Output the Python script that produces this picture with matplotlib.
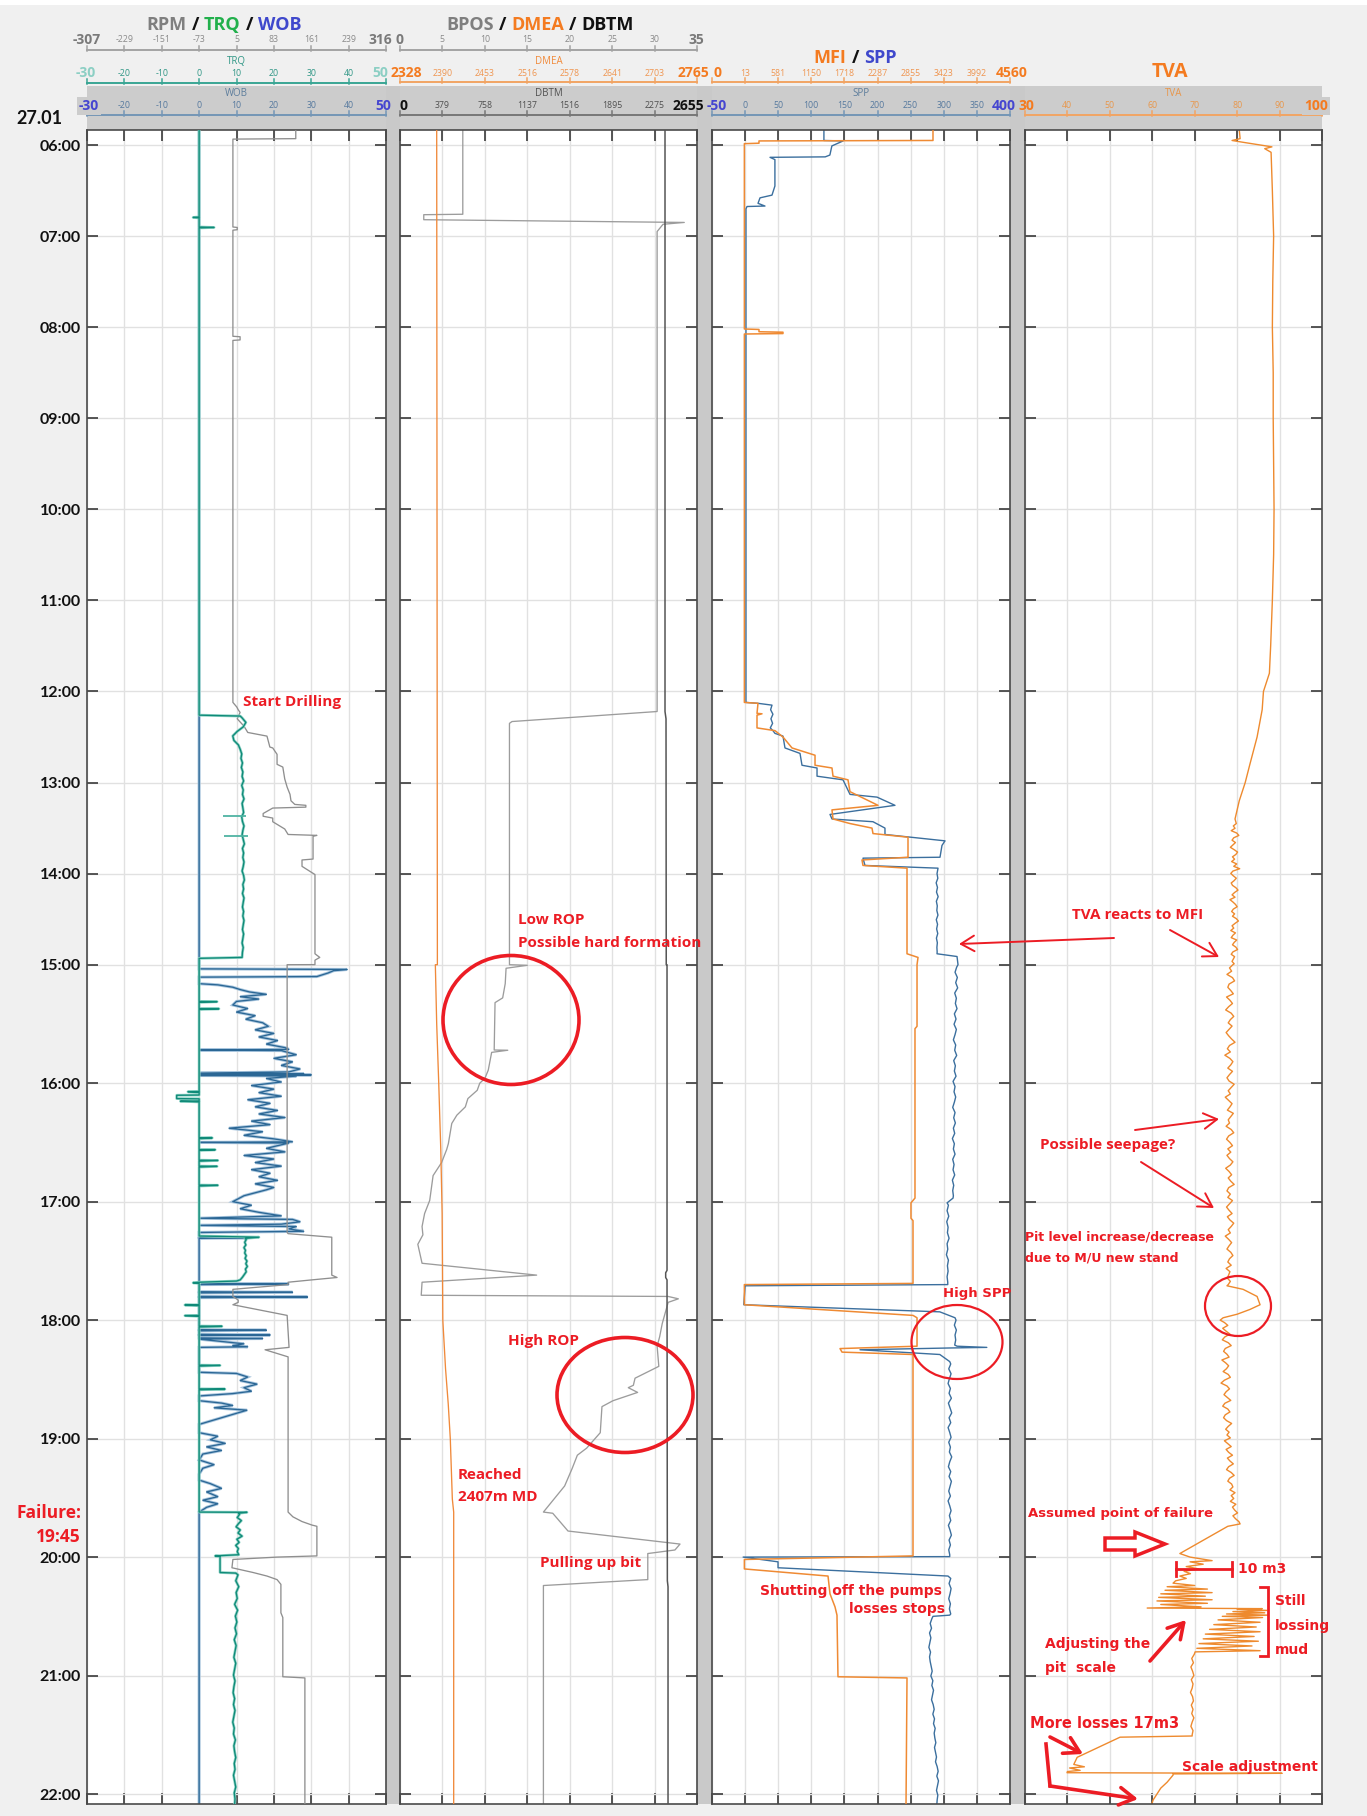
import numpy as np
import matplotlib
matplotlib.use("Agg")
import matplotlib.pyplot as plt
from matplotlib.patches import Ellipse, Polygon, Rectangle, FancyArrowPatch
from matplotlib.transforms import Affine2D
from matplotlib.lines import Line2D

# ---------------------------------------------------------------- data
HOURS = list(range(6, 23))
DATE_LABEL = "27.01"

# header scale labels (first and last are the bold range ends)
RPM_LABELS = ["-307", "-229", "-151", "-73", "5", "83", "161", "239", "316"]
TRQ_LABELS = ["-30", "-20", "-10", "0", "10", "20", "30", "40", "50"]
WOB_LABELS = ["-30", "-20", "-10", "0", "10", "20", "30", "40", "50"]
BPOS_LABELS = ["0", "5", "10", "15", "20", "25", "30", "35"]
DMEA_LABELS = ["2328", "2390", "2453", "2516", "2578", "2641", "2703", "2765"]
DBTM_LABELS = ["0", "379", "758", "1137", "1516", "1895", "2275", "2655"]
MFI_LABELS = ["0", "13", "581", "1150", "1718", "2287", "2855", "3423", "3992", "4560"]
SPP_LABELS = ["-50", "0", "50", "100", "150", "200", "250", "300", "350", "400"]
TVA_LABELS = ["30", "40", "50", "60", "70", "80", "90", "100"]

# axis ranges
WOB_RANGE = (-30, 50)
TRQ_RANGE = (-30, 50)
RPM_RANGE = (-307, 316)
BPOS_RANGE = (0, 35)
DMEA_RANGE = (2328, 2765)
DBTM_RANGE = (0, 2655)
SPP_RANGE = (-50, 400)
MFI_RANGE = (-555.5, 4560)
TVA_RANGE = (30, 100)

# --- RPM (rev/min)
rpm_t = [5.835, 5.93, 5.935, 6.90, 6.905, 6.93, 6.935, 8.10, 8.105, 8.14, 8.145,
         12.12, 12.17, 12.2, 12.23, 12.3, 12.38, 12.45, 12.49, 12.61, 12.62,
         12.69, 12.80, 12.83, 12.96, 13.05, 13.13, 13.20, 13.24, 13.25, 13.27,
         13.28, 13.34, 13.37, 13.39, 13.43, 13.51, 13.57, 13.58, 13.59, 13.84,
         13.85, 13.92, 14.01, 14.88, 14.92, 14.95, 14.999,
         15.0, 17.26, 17.27, 17.30, 17.62, 17.64, 17.66, 17.68, 17.70, 17.74,
         17.80, 17.83, 17.85, 17.87, 17.96, 18.23, 18.25, 18.31, 19.62, 19.66,
         19.70, 19.73, 19.74, 19.99, 20.00, 20.02, 20.09, 20.13, 20.16, 20.19,
         20.23, 20.47, 20.51, 21.01, 21.02, 22.09]
rpm_v = [128, 128, -3, -3, 6, 6, -3, -3, 12, 12, -3,
         -3, 5, 8, 12, 6, 20, 28, 68, 74, 80,
         89, 89, 101, 105, 110, 116, 118, 126, 149, 149,
         80, 60, 60, 80, 80, 105, 112, 172, 164, 164,
         141, 141, 168, 168, 178, 168, 168,
         110, 110, 112, 203, 203, 214, 162, 112, 112, -3,
         -3, 8, 8, -3, 110, 114, 64, 112, 112, 122,
         141, 162, 172, 172, 89, -3, -5, 39, 68, 89,
         97, 97, 101, 101, 147, 147]

# --- TRQ (kNm)
trq_t = np.r_[[5.835, 6.79, 6.795, 6.80, 6.90, 6.905, 6.91, 12.26, 12.27],
              np.linspace(12.29, 14.91, 54),
              [14.92, 14.93, 15.31, 15.312, 15.318, 15.37, 15.372, 15.378, 16.07, 16.072, 16.078,
               16.10, 16.102, 16.13, 16.132, 16.15, 16.152, 16.158, 16.46, 16.462, 16.468,
               16.56, 16.562, 16.568, 16.65, 16.652, 16.658, 16.70, 16.702, 16.708,
               16.86, 16.862, 16.868, 17.29, 17.30, 17.31],
              np.linspace(17.32, 17.66, 16),
              [17.67, 17.68, 17.685, 17.69, 17.87, 17.872, 17.878, 17.96, 17.962, 17.968,
               18.05, 18.052, 18.058, 18.38, 18.382, 18.388, 18.58, 18.582, 18.588,
               19.62, 19.622, 19.63],
              np.linspace(19.64, 19.98, 14),
              [19.99, 19.995, 20.13, 20.135],
              np.linspace(20.15, 22.09, 40)]
trq_v = np.r_[[0, 0, -1.6, 0, 0, 4, 0, 0, 11],
              [11.5, 12.5, 11.8, 10.2, 9.0, 9.3, 10.5, 11.0, 11.4, 11.2,
               11.6, 11.3, 11.7, 11.5, 11.9, 11.4, 11.8, 11.6, 12.0, 11.5,
               11.7, 11.9, 11.4, 11.6, 12.0, 11.7, 11.5, 11.8, 12.1, 11.6,
               11.9, 11.7, 12.0, 11.8, 11.5, 11.9, 12.1, 11.7, 11.9, 11.6,
               12.0, 11.8, 11.6, 11.9, 11.7, 12.0, 11.8, 11.6, 11.9, 11.7,
               11.5, 11.8, 11.6, 11.5],
              [11.5, 0, 0, 4.8, 0, 0, 5.3, 0, 0, -3, 0,
               0, -6, -6, 0, 0, -5, 0, 0, 3.5, 0,
               0, 4.3, 0, 0, 5.0, 0, 0, 4.8, 0,
               0, 5.0, 0, 0, 16, 12.3],
              [12.6, 12.2, 12.5, 12.0, 12.4, 12.2, 12.6, 12.3, 12.8, 12.5,
               12.9, 12.4, 12.6, 12.1, 11.6, 11.0],
              [10.0, 0, -1.6, 0, 0, -3.8, 0, 0, -3.8, 0,
               0, 6.1, 0, 0, 5.6, 0, 0, 6.9, 0,
               0, 12.8, 10.5],
              [10.8, 10.2, 11.3, 10.5, 9.9, 11.0, 10.4, 11.5, 10.1, 10.7,
               9.8, 10.5, 10.2, 10.6],
              [4.3, 5.6, 5.6, 9.8],
              [10.4, 9.8, 10.6, 9.9, 10.2, 9.5, 10.3, 9.7, 10.1, 9.6,
               10.0, 9.4, 9.9, 9.6, 9.3, 9.8, 9.5, 9.2, 9.6, 9.3,
               9.1, 9.5, 9.2, 9.6, 9.3, 9.0, 9.4, 9.2, 9.7, 9.3,
               9.5, 9.8, 9.4, 9.6, 9.2, 9.5, 9.8, 9.4, 9.6, 9.5]]
# short torque excursions while drilling the upper section
trq_spike_t = [13.37, 13.59]
trq_spike_lo = [6.3, 6.6]
trq_spike_hi = [12.6, 13.0]

# --- WOB (t)
wob_t = [5.835, 15.0, 15.035, 15.04, 15.05, 15.07, 15.085, 15.10, 15.105, 15.16,
         15.17, 15.19, 15.21, 15.23, 15.25, 15.27, 15.29, 15.31, 15.34, 15.37,
         15.40, 15.43, 15.46, 15.49, 15.52, 15.55, 15.58, 15.61, 15.64, 15.67,
         15.70, 15.715, 15.72, 15.725, 15.76, 15.79, 15.82, 15.85, 15.88, 15.905,
         15.915, 15.92, 15.925, 15.93, 15.935, 15.94, 15.96, 15.99, 16.02, 16.05,
         16.08, 16.11, 16.14, 16.17, 16.20, 16.23, 16.26, 16.29, 16.32, 16.35,
         16.38, 16.41, 16.44, 16.47, 16.495, 16.50, 16.505, 16.55, 16.58, 16.61,
         16.64, 16.67, 16.70, 16.73, 16.76, 16.79, 16.82, 16.85, 16.88, 16.90,
         16.95, 17.00, 17.03, 17.06, 17.09, 17.12, 17.14, 17.15, 17.17, 17.19,
         17.20, 17.21, 17.23, 17.25, 17.26, 17.30, 17.305, 17.31, 17.69, 17.695,
         17.70, 17.76, 17.765, 17.77, 17.80, 17.805, 17.81, 18.08, 18.085, 18.09,
         18.12, 18.125, 18.13, 18.15, 18.155, 18.16, 18.18, 18.20, 18.215, 18.225,
         18.23, 18.44, 18.45, 18.48, 18.51, 18.54, 18.57, 18.60, 18.62, 18.64,
         18.68, 18.70, 18.72, 18.74, 18.76, 18.88, 18.95, 18.98, 19.01, 19.04,
         19.07, 19.10, 19.13, 19.18, 19.22, 19.25, 19.30, 19.35, 19.38, 19.42,
         19.45, 19.49, 19.52, 19.55, 19.58, 19.62, 22.09]
wob_v = [0, 0, 0, 39.6, 36.0, 34.5, 33.0, 31.5, 0, 0,
         5, 9, 11, 13.5, 18, 11, 16, 10, 9, 13,
         10, 15, 12.5, 17, 18.5, 15, 20, 16, 21, 18,
         23, 24, 0, 22, 26, 20, 25, 22, 27, 24,
         0, 28, 0, 30, 0, 26, 18, 22, 14, 20,
         16, 22, 13, 19, 15, 21, 16, 23, 14, 19,
         8, 17, 12, 20, 25, 0, 24, 18, 23, 12,
         20, 15, 22, 14, 19, 16, 21, 15, 20, 18,
         12, 9, 14, 11, 16, 22, 0, 25, 27, 22,
         0, 26, 24, 28, 0, 0, 13, 0, 0, 24,
         0, 0, 25, 0, 0, 29, 0, 0, 18, 0,
         0, 19, 0, 0, 17, 0, 6, 12, 9, 13,
         0, 0, 10, 13, 11, 15.5, 12, 14, 9, 0,
         0, 6, 9, 4, 12.8, 0, 0, 5, 3, 7,
         2, 6, 1, 0, 4, 1, 0, 0, 3, 6,
         2, 5, 1, 5, 2, 0, 0]

# --- BPOS (m)
bpos_t = [5.835, 6.76, 6.765, 6.82, 6.85, 6.87, 6.95, 12.22, 12.33, 12.35, 15.0,
          15.005, 15.03, 15.16, 15.28, 15.32, 15.72, 15.722, 15.74, 15.89, 15.96,
          16.0, 16.06, 16.13, 16.20, 16.27, 16.34, 16.51, 16.56,
          16.67, 16.78, 16.99, 17.10, 17.21, 17.28, 17.36, 17.52, 17.62, 17.68,
          17.79, 17.80, 17.82, 17.85,
          18.03, 18.14, 18.22, 18.39, 18.49, 18.55, 18.57, 18.61, 18.68, 18.73,
          18.95, 19.08, 19.14, 19.25, 19.40,
          19.62, 19.63, 19.78, 19.89, 19.94, 19.97, 20.19, 20.24, 22.09]
bpos_v = [7.4, 7.4, 2.8, 2.8, 33.5, 31.0, 30.3, 30.3, 13.2, 12.9, 12.9,
          15.0, 12.5, 12.4, 12.1, 11.2, 11.1, 12.7, 10.8, 10.4, 10.0,
          9.4, 9.1, 8.0, 7.7, 6.7, 6.1, 5.7, 5.5,
          4.9, 3.9, 3.5, 2.9, 2.6, 2.7, 2.1, 2.6, 16.1, 2.6,
          2.5, 31.6, 32.8, 31.6,
          30.9, 30.6, 30.3, 30.5, 27.7, 27.5, 26.9, 28.0, 25.1, 23.8,
          23.6, 22.0, 20.9, 20.3, 19.4,
          16.9, 18.0, 19.8, 33.0, 32.4, 29.2, 29.2, 16.9, 16.9]

# --- DMEA (m MD)
dmea_t = [5.835, 15.0, 15.0, 15.5, 16.0, 16.56, 17.1, 18.0, 18.41, 18.71, 19.0, 19.51, 19.62, 22.09]
dmea_v = [2382, 2383, 2380, 2382, 2385, 2388, 2390, 2391, 2395, 2399, 2402, 2405, 2407, 2407]

# --- DBTM (m)
dbtm_t = [5.835, 12.22, 12.30, 15.0, 15.0, 17.58, 17.60, 17.64, 17.66, 20.20, 20.25, 22.09]
dbtm_v = [2369, 2369, 2378, 2380, 2387, 2387, 2375, 2375, 2387, 2390, 2396, 2396]

# --- SPP (bar)
spp_t = np.r_[[5.835, 5.95, 5.955, 6.01, 6.11, 6.13, 6.135, 6.16, 6.45, 6.55,
               6.58, 6.64, 6.67, 6.675, 6.70, 12.12, 12.13, 12.15, 12.20, 12.25,
               12.30, 12.35, 12.40, 12.43, 12.46, 12.49, 12.62, 12.68, 12.81, 12.84,
               12.93, 12.97, 13.13, 13.16, 13.25, 13.35, 13.40, 13.43, 13.50, 13.57,
               13.64, 13.69, 13.82, 13.83, 13.91, 13.94],
              np.linspace(14.0, 14.86, 18),
              [14.88, 14.91, 15.0],
              np.linspace(15.02, 16.95, 45),
              [16.97, 17.01],
              np.linspace(17.03, 17.68, 15),
              [17.69, 17.70, 17.71, 17.87, 17.93, 17.98],
              np.linspace(18.0, 18.21, 6),
              [18.22, 18.23, 18.235, 18.25, 18.29, 18.35],
              np.linspace(18.37, 19.98, 40),
              [19.996, 20.0, 20.04, 20.09, 20.16],
              np.linspace(20.18, 20.48, 8),
              [20.49, 20.50],
              np.linspace(20.52, 22.09, 40)]
spp_v = np.r_[[119, 119, 148, 131, 128, 121, 37.6, 45, 45, 40.6,
               22.5, 19.5, 30, 2.9, 1.3, 1.3, 19.5, 40.6, 38.5, 42.0,
               39.0, 41.5, 38.0, 42.0, 45.1, 57.2, 60.2, 82.9, 85.9, 108.6,
               108.6, 147.8, 158.4, 199.2, 226.3, 128.2, 131.2, 193.1, 211.2, 211.2,
               301.9, 297.3, 294.3, 178.0, 181.0, 291.3],
              [289.8, 291.0, 288.5, 290.5, 289.0, 291.5, 288.8, 290.2, 289.5, 291.2,
               288.7, 290.6, 289.2, 290.9, 288.9, 290.3, 289.6, 290.0],
              [289.8, 320, 321.5],
              [319.5, 317.0, 320.5, 318.0, 321.0, 316.5, 319.0, 317.5, 320.0, 316.0,
               318.5, 315.5, 319.0, 317.0, 314.5, 318.0, 316.5, 319.5, 315.0, 317.5,
               316.0, 318.5, 314.0, 317.0, 315.5, 318.0, 316.0, 313.5, 317.0, 315.0,
               317.5, 314.5, 316.5, 313.0, 316.0, 314.5, 317.0, 313.5, 315.5, 314.0,
               316.5, 313.0, 315.0, 313.5, 314.5],
              [314, 305],
              [307.0, 305.0, 307.5, 304.5, 306.5, 305.5, 308.0, 305.0, 306.0, 304.0,
               307.0, 305.5, 306.5, 305.0, 306.0],
              [306, 306, 0, -2, 294, 317],
              [318.5, 316.0, 319.0, 317.0, 318.0, 316.5],
              [320, 365, 309, 173.5, 294, 309],
              [310.5, 307.5, 311.0, 308.5, 306.5, 310.0, 308.0, 311.5, 307.0, 309.5,
               312.0, 308.0, 310.5, 306.5, 309.0, 311.0, 307.5, 310.0, 308.5, 312.0,
               309.0, 307.0, 310.5, 308.0, 311.5, 309.5, 307.5, 310.0, 306.5, 309.0,
               311.0, 308.5, 310.5, 307.0, 309.5, 311.5, 308.0, 310.0, 307.5, 309.0],
              [309, -3, 49.7, 49.7, 306.4],
              [310.5, 308.0, 311.0, 309.5, 307.5, 310.0, 308.5, 310.5],
              [309, 283.7],
              [282.0, 279.5, 281.5, 278.5, 280.5, 279.0, 277.5, 280.0, 278.5, 279.5,
               281.0, 282.5, 280.5, 283.5, 282.0, 284.5, 283.0, 281.5, 284.0, 285.5,
               283.5, 286.0, 284.5, 287.0, 285.5, 286.5, 288.0, 286.0, 287.5, 289.0,
               287.5, 290.0, 291.5, 289.5, 292.0, 290.5, 289.0, 291.0, 290.0, 289.5]]

# --- MFI (l/min)
mfi_t = [5.835, 5.95, 5.955, 5.98, 5.985, 8.02, 8.025, 8.05, 8.055, 8.07,
         8.075, 12.12, 12.13, 12.24, 12.245, 12.26, 12.40, 12.43, 12.50, 12.62,
         12.70, 12.81, 12.84, 12.93, 12.97, 13.10, 13.25, 13.30, 13.40, 13.45,
         13.50, 13.56, 13.60, 13.82, 13.85, 13.91, 13.94, 14.88, 14.92, 15.0,
         15.52, 15.54, 16.97, 17.01, 17.14, 17.16, 17.69, 17.70, 17.87, 17.96,
         17.98, 18.22, 18.24, 18.27, 18.29, 19.99, 20.02, 20.10, 20.16, 20.31,
         20.42, 20.49, 21.01, 21.02, 22.09]
mfi_v = [3238, 3238, 251, 251, 0, 0, 251, 251, 663, 663,
         0, 0, 234, 217, 303, 217, 217, 526, 663, 818,
         1213, 1213, 1504, 1522, 1779, 1813, 2294, 1504, 1522, 1813,
         2191, 2208, 2809, 2809, 2019, 2036, 2792, 2792, 2981, 2964,
         2964, 2929, 2929, 2860, 2860, 2895, 2895, 0, 0, 2895,
         2964, 2964, 1642, 1676, 2895, 2895, 0, 0, 1436, 1470,
         1556, 1590, 1607, 2792, 2775]

# --- TVA (m3)
tva_t = np.r_[[5.835, 5.93, 5.95, 5.97, 6.02, 6.04, 6.08, 6.5, 7.0, 7.5, 8.0, 8.5, 9.0,
               9.5, 10.0, 10.5, 11.0, 11.5, 11.8, 12.0, 12.2, 12.5, 12.8, 13.0, 13.2, 13.4],
              np.linspace(13.45, 14.99, 60),
              np.linspace(15.0, 17.70, 100),
              [17.71, 17.74, 17.80, 17.87, 17.91, 17.95, 17.98, 18.0],
              np.linspace(18.02, 19.70, 70),
              [19.72, 19.74, 19.97, 20.0, 20.03, 20.04, 20.06, 20.08, 20.10, 20.12,
               20.14, 20.16, 20.18, 20.20, 20.22, 20.24, 20.25, 20.27, 20.28, 20.30,
               20.31, 20.33, 20.34, 20.36, 20.37, 20.39, 20.40, 20.42, 20.43, 20.435,
               20.44, 20.45, 20.46, 20.47, 20.48, 20.49, 20.50, 20.51, 20.53, 20.55,
               20.57, 20.59, 20.61, 20.63, 20.65, 20.67, 20.69, 20.71, 20.73, 20.75,
               20.77, 20.79, 20.80],
              np.linspace(20.82, 21.50, 20),
              [21.51, 21.52, 21.69, 21.75, 21.77, 21.78, 21.80, 21.81, 21.82, 21.825,
               21.83, 21.84, 21.90, 21.95, 22.05, 22.09]]
tva_v = np.r_[[80.5, 80.7, 78.8, 81.4, 88.2, 86.5, 88.0, 88.3, 88.6, 88.4, 88.3, 88.5, 88.5,
               88.6, 88.7, 88.6, 88.3, 87.9, 87.6, 86.2, 85.9, 84.7, 83.0, 81.9, 80.5, 79.5],
              [79.8, 79.1, 79.5, 78.6, 79.9, 80.4, 79.2, 78.8, 79.6, 79.0,
               78.4, 79.3, 80.1, 79.7, 78.9, 79.4, 78.7, 79.9, 79.2, 80.6,
               79.0, 78.5, 79.1, 79.8, 79.3, 78.6, 78.9, 79.7, 80.2, 79.4,
               78.8, 79.5, 78.3, 79.0, 79.6, 80.0, 79.1, 78.7, 79.4, 78.9,
               79.8, 80.3, 79.5, 78.8, 79.2, 78.5, 79.6, 79.0, 78.6, 79.9,
               79.3, 78.9, 79.7, 80.1, 79.0, 78.6, 79.4, 79.1, 78.8, 79.3],
              [79.0, 78.2, 78.7, 77.6, 78.9, 79.4, 78.1, 77.8, 78.5, 79.1,
               77.5, 78.3, 78.9, 78.0, 77.3, 78.6, 79.2, 78.4, 77.9, 78.8,
               78.1, 77.4, 78.0, 78.7, 79.5, 78.2, 77.7, 78.4, 77.1, 78.3,
               79.0, 78.5, 77.8, 78.9, 78.2, 77.6, 78.1, 79.3, 78.6, 77.9,
               78.4, 77.2, 78.0, 78.8, 78.3, 77.7, 79.1, 78.5, 77.9, 78.2,
               77.4, 78.6, 79.2, 78.0, 77.5, 78.3, 78.9, 77.8, 78.5, 77.6,
               78.2, 79.0, 78.4, 77.3, 78.1, 78.7, 77.9, 78.5, 79.3, 78.0,
               77.6, 78.4, 77.8, 78.9, 78.2, 77.5, 78.1, 78.8, 77.7, 78.3,
               79.2, 78.6, 77.9, 78.4, 77.2, 78.0, 78.7, 78.1, 77.6, 78.5,
               79.0, 78.2, 77.8, 78.6, 77.4, 78.3, 78.0, 77.7, 78.4, 77.9],
              [77.6, 81.4, 84.7, 85.4, 83.0, 80.0, 76.7, 76.0],
              [77.0, 77.8, 76.6, 77.4, 78.3, 77.1, 76.5, 77.9, 78.6, 77.2,
               76.8, 77.6, 78.1, 76.4, 77.3, 78.0, 77.5, 76.7, 77.9, 78.4,
               77.0, 76.2, 77.6, 78.2, 77.4, 76.9, 77.7, 78.5, 77.1, 76.6,
               77.8, 78.3, 77.2, 76.8, 77.5, 78.7, 77.9, 77.3, 78.1, 77.6,
               78.4, 77.0, 77.8, 78.6, 77.4, 78.0, 78.9, 77.7, 78.3, 79.1,
               78.0, 77.5, 78.6, 79.3, 78.2, 77.8, 78.7, 79.0, 78.3, 79.5,
               78.6, 79.2, 78.4, 79.7, 78.9, 79.4, 80.1, 79.0, 79.6, 80.4],
              [80.7, 77.8, 66.5, 68.9, 74.1, 68.9, 72.0, 68.0, 71.0, 67.5,
               69.0, 66.5, 68.0, 65.5, 64.9, 70.0, 63.5, 73.0, 63.0, 74.1,
               62.0, 72.5, 61.5, 74.1, 61.1, 73.0, 62.0, 71.5, 58.8, 85.9,
               80.0, 87.0, 79.0, 86.5, 77.5, 87.3, 76.5, 86.0, 75.5, 85.4,
               74.5, 84.5, 73.5, 85.4, 72.5, 84.0, 72.0, 85.0, 71.0, 83.5,
               70.5, 85.4, 70.1],
              [69.9, 69.3, 69.7, 69.1, 69.5, 69.8, 69.2, 69.6, 69.4, 69.0,
               69.5, 69.7, 69.2, 69.6, 69.3, 69.8, 69.4, 69.1, 69.6, 69.4],
              [69.4, 52.4, 42.3, 41.5, 44.0, 40.5, 43.0, 40.0, 39.9, 90.6,
               64.9, 64.9, 63.5, 62.0, 60.2, 59.8]]

# ---------------------------------------------------------------- figure
W, H = 1367, 1816
fig = plt.figure(figsize=(W / 100, H / 100), dpi=100, facecolor="#f0f0f0")
PIX = Affine2D().scale(1.0 / W, -1.0 / H).translate(0, 1) + fig.transFigure

RED = "#ec1c24"
CAL = "Lato"
ANN = "Open Sans"
VER = "DejaVu Sans"
SEG = "Open Sans"

# time axis: two stitched sections with different hour heights
SPLICE = 15.0
UP_RATE, LO_RATE = 91.17, 118.6


def t2y(t):
    t = np.asarray(t, dtype=float)
    return np.where(t <= SPLICE, t * UP_RATE, SPLICE * UP_RATE + (t - SPLICE) * LO_RATE)


def y2t(y):
    y = np.asarray(y, dtype=float)
    ys = SPLICE * UP_RATE
    return np.where(y <= ys, y / UP_RATE, SPLICE + (y - ys) / LO_RATE)


TOP, BOT = 130, 1804
T_TOP, T_BOT = 5.835, 22.084
TRACKS = [(87, 386), (400, 697), (712, 1010), (1025, 1322)]


def rect(x0, y0, x1, y1, color, z=-1):
    fig.add_artist(Rectangle((x0, y0), x1 - x0, y1 - y0, transform=PIX,
                             facecolor=color, edgecolor="none", zorder=z))


# background furniture
rect(0, 0, W, 5, "white")
rect(87, 86, 1322, 130, "#cccccc")
for a, b in [(386, 400), (697, 712), (1010, 1025)]:
    rect(a, 86, b, BOT, "#c9c9c9")


def new_track(x0, x1, lim):
    ax = fig.add_axes([x0 / W, 1 - BOT / H, (x1 - x0) / W, (BOT - TOP) / H])
    ax.set_facecolor("white")
    ax.set_yscale("function", functions=(t2y, y2t))
    ax.set_ylim(T_BOT, T_TOP)
    ax.set_xlim(*lim)
    return ax


def twin(ax, lim):
    a = ax.twiny()
    a.set_xlim(*lim)
    a.xaxis.set_visible(False)
    for s in a.spines.values():
        s.set_visible(False)
    return a


def style(ax, lim, n, hours=False):
    ax.set_xticks(np.linspace(lim[0], lim[1], n + 1))
    ax.set_yticks(HOURS)
    ax.grid(True, color="#e1e1e1", lw=1.0)
    ax.set_axisbelow(True)
    ax.tick_params(axis="both", direction="in", length=8, width=1.2, color="#3a3a3a",
                   top=True, bottom=True, left=True, right=True,
                   labelbottom=False, labeltop=False, labelleft=hours, labelright=False)
    if hours:
        ax.set_yticklabels([f"{h:02d}:00" for h in HOURS], fontsize=11.5,
                           fontweight="bold", family=CAL, color="#111111")
        ax.tick_params(axis="y", pad=4.5)
    for s in ax.spines.values():
        s.set_color("#4a4a4a")
        s.set_linewidth(1.2)


LW = 0.95

# --- track 1: RPM / TRQ / WOB
ax1 = new_track(*TRACKS[0], WOB_RANGE)
ax1.plot(wob_v, wob_t, color="#a9c6de", lw=2.2, solid_joinstyle="miter")
ax1.plot(wob_v, wob_t, color="#2b6795", lw=LW)
ax1r = twin(ax1, RPM_RANGE)
ax1r.plot(rpm_v, rpm_t, color="#8f8f8f", lw=LW)
ax1t = twin(ax1, TRQ_RANGE)
ax1t.plot(trq_v, trq_t, color="#8fd3c6", lw=2.0)
ax1t.plot(trq_v, trq_t, color="#0f8a78", lw=LW)
ax1t.hlines(trq_spike_t, trq_spike_lo, trq_spike_hi, color="#4fb3a2", lw=1.3)
style(ax1, WOB_RANGE, 8, hours=True)

# --- track 2: BPOS / DMEA / DBTM
ax2 = new_track(*TRACKS[1], BPOS_RANGE)
ax2.plot(bpos_v, bpos_t, color="#9c9c9c", lw=LW)
ax2m = twin(ax2, DMEA_RANGE)
ax2m.plot(dmea_v, dmea_t, color="#f0893a", lw=LW)
ax2d = twin(ax2, DBTM_RANGE)
ax2d.plot(dbtm_v, dbtm_t, color="#555555", lw=1.1)
style(ax2, BPOS_RANGE, 7)

# --- track 3: MFI / SPP
ax3 = new_track(*TRACKS[2], SPP_RANGE)
ax3.plot(spp_v, spp_t, color="#3b6f9e", lw=1.0)
ax3m = twin(ax3, MFI_RANGE)
ax3m.plot(mfi_v, mfi_t, color="#ef8a33", lw=1.1)
style(ax3, SPP_RANGE, 9)

# --- track 4: TVA
ax4 = new_track(*TRACKS[3], TVA_RANGE)
ax4.plot(tva_v, tva_t, color="#ee8a2e", lw=1.0)
style(ax4, TVA_RANGE, 7)


# ---------------------------------------------------------------- header
def header_row(x0, x1, labels, y_lab, y_line, ends, end_col, in_col, line_col,
               name=None, y_name=None, name_col=None, boxes=(False, False)):
    n = len(labels) - 1
    xs = np.linspace(x0, x1, n + 1)
    fig.add_artist(Line2D([x0, x1], [y_line, y_line], transform=PIX, color=line_col, lw=1.4))
    for x in xs:
        fig.add_artist(Line2D([x, x], [y_line - 4, y_line + 1], transform=PIX, color=line_col, lw=1.1))
    for i, s in enumerate(labels):
        if i in (0, n):
            k = 0 if i == 0 else 1
            bb = dict(facecolor="#cccccc", edgecolor="none", pad=1.2) if boxes[k] else None
            fig.text(ends[k], y_lab, s, transform=PIX, ha="center", va="center", fontsize=10,
                     fontweight="bold", color=end_col, family=SEG, bbox=bb)
        else:
            fig.text(xs[i], y_lab, s, transform=PIX, ha="center", va="center", fontsize=6.3,
                     color=in_col, family=SEG)
    if name:
        fig.text((x0 + x1) / 2, y_name, name, transform=PIX, ha="center", va="center",
                 fontsize=7, color=name_col, family=SEG)


GRAY_END, GRAY_IN, GRAY_LINE = "#7a7a7a", "#8a8a8a", "#a3a3a3"
BLUE_END, STEEL_IN, STEEL_LINE = "#4646d0", "#56799e", "#7496b6"
ORG_END, ORG_IN, ORG_LINE = "#f47b20", "#ef9550", "#f2a464"

x0, x1 = TRACKS[0]
header_row(x0, x1, RPM_LABELS, 40, 50, (87, 380), GRAY_END, GRAY_IN, GRAY_LINE)
header_row(x0, x1, TRQ_LABELS, 73, 83, (86, 380), "#8ccfc4", "#2f9685", "#3aa594",
           name="TRQ", y_name=61, name_col="#2f9685")
header_row(x0, x1, WOB_LABELS, 106, 115, (89, 383), BLUE_END, STEEL_IN, STEEL_LINE,
           name="WOB", y_name=93, name_col="#5d7d9c", boxes=(True, False))

x0, x1 = TRACKS[1]
header_row(x0, x1, BPOS_LABELS, 40, 50, (400, 696), GRAY_END, GRAY_IN, GRAY_LINE)
header_row(x0, x1, DMEA_LABELS, 73, 82, (406, 693), ORG_END, ORG_IN, ORG_LINE,
           name="DMEA", y_name=61, name_col="#f08a3a")
header_row(x0, x1, DBTM_LABELS, 106, 115, (403, 688), "#111111", "#505050", "#777777",
           name="DBTM", y_name=93, name_col="#505050")

x0, x1 = TRACKS[2]
header_row(x0, x1, MFI_LABELS, 73, 82, (717, 1012), ORG_END, ORG_IN, ORG_LINE)
header_row(x0, x1, SPP_LABELS, 106, 115, (717, 1004), BLUE_END, STEEL_IN, STEEL_LINE,
           name="SPP", y_name=93, name_col="#5d7d9c")

x0, x1 = TRACKS[3]
header_row(x0, x1, TVA_LABELS, 106, 115, (1026, 1316), ORG_END, "#e8964a", ORG_LINE,
           name="TVA", y_name=93, name_col="#e8964a", boxes=(False, True))


def title(xc, y, parts, size=13, gap=5):
    r = fig.canvas.get_renderer()
    items = []
    for s, c in parts:
        t = fig.text(0, y, s, transform=PIX, ha="left", va="center", fontsize=size,
                     fontweight="bold", color=c, family=SEG)
        items.append((t, t.get_window_extent(r).width))
    total = sum(w for _, w in items) + gap * (len(items) - 1)
    x = xc - total / 2
    for t, w in items:
        t.set_x(x)
        x += w + gap


title(224, 25, [("RPM", "#7f7f7f"), ("/", "#111111"), ("TRQ", "#22b04c"),
                ("/", "#111111"), ("WOB", "#3f48cc")])
title(540, 25, [("BPOS", "#7f7f7f"), ("/", "#111111"), ("DMEA", "#f47b20"),
                ("/", "#111111"), ("DBTM", "#111111")])
title(855, 58, [("MFI", "#f47b20"), ("/", "#111111"), ("SPP", "#3f48cc")])
title(1170, 72, [("TVA", "#f47b20")], size=14)

fig.text(39, 118, DATE_LABEL, transform=PIX, ha="center", va="center", fontsize=13,
         fontweight="bold", family=CAL, color="#111111")


# ---------------------------------------------------------------- annotations
def note(x, y, s, size=11.5, family=ANN, ha="left"):
    fig.text(x, y, s, transform=PIX, ha=ha, va="center", fontsize=size,
             fontweight="bold", color=RED, family=family, zorder=6)


def arrow(p0, p1, lw=1.4, ms=16):
    fig.add_artist(FancyArrowPatch(p0, p1, transform=PIX,
                                   arrowstyle="->,head_length=0.6,head_width=0.35",
                                   mutation_scale=ms, color=RED, lw=lw, zorder=6,
                                   shrinkA=0, shrinkB=0))


def seg(pts, lw=2.0):
    xs, ys = zip(*pts)
    fig.add_artist(Line2D(xs, ys, transform=PIX, color=RED, lw=lw, zorder=6,
                          solid_joinstyle="miter"))


note(243, 702, "Start Drilling", size=11)
note(518, 920, "Low ROP", size=11)
note(518, 943, "Possible hard formation", size=11)
note(508, 1341, "High ROP", size=11)
note(458, 1475, "Reached", size=11)
note(458, 1497, "2407m MD", size=11)
note(540, 1563, "Pulling up bit", size=11)
note(1072, 915, "TVA reacts to MFI", size=11)
note(1040, 1145, "Possible seepage?", size=11)
note(49, 1513, "Failure:", size=12.5, ha="center")
note(81, 1537, "19:45", size=12.5, ha="right")

note(943, 1293, "High SPP", size=9.5, family=VER)
note(760, 1591, "Shutting off the pumps", size=10, family=VER)
note(945, 1609, "losses stops", size=10, family=VER, ha="right")
note(1025, 1237, "Pit level increase/decrease", size=9, family=VER)
note(1025, 1258, "due to M/U new stand", size=9, family=VER)
note(1028, 1513, "Assumed point of failure", size=9.5, family=VER)
note(1238, 1569, "10 m3", size=10, family=VER)
note(1275, 1601, "Still", size=10, family=VER)
note(1275, 1626, "lossing", size=10, family=VER)
note(1275, 1650, "mud", size=10, family=VER)
note(1045, 1644, "Adjusting the", size=10, family=VER)
note(1045, 1668, "pit  scale", size=10, family=VER)
note(1030, 1724, "More losses 17m3", size=10.5, family=VER)
note(1182, 1767, "Scale adjustment", size=10, family=VER)

for cx, cy, w, h, lw in [(511, 1020, 136, 129, 2.6), (625, 1395, 136, 115, 2.6),
                         (957, 1342, 91, 74, 1.6), (1238, 1306, 66, 60, 1.6)]:
    fig.add_artist(Ellipse((cx, cy), w, h, transform=PIX, fill=False,
                           edgecolor=RED, lw=lw, zorder=6))

arrow((1114, 938), (959, 944))
arrow((1170, 930), (1219, 957))
arrow((1135, 1130), (1219, 1119))
arrow((1141, 1162), (1214, 1208))

fig.add_artist(Polygon([(1105, 1538), (1135, 1538), (1135, 1532), (1165, 1544),
                        (1135, 1556), (1135, 1550), (1105, 1550)], closed=True,
                       transform=PIX, facecolor="white", edgecolor=RED, lw=2.5, zorder=6))

seg([(1176, 1569), (1232, 1569)], lw=2)
seg([(1176, 1562), (1176, 1576)], lw=2)
seg([(1232, 1562), (1232, 1576)], lw=2)
seg([(1260, 1587), (1268, 1587), (1268, 1656), (1260, 1656)], lw=2)

arrow((1150, 1661), (1186, 1620), lw=2.6, ms=18)
arrow((1050, 1737), (1083, 1754), lw=2.6, ms=18)
seg([(1046, 1744), (1050, 1786)], lw=2.6)
arrow((1050, 1786), (1138, 1799), lw=2.6, ms=18)

fig.savefig("out.png", dpi=100, facecolor=fig.get_facecolor())
